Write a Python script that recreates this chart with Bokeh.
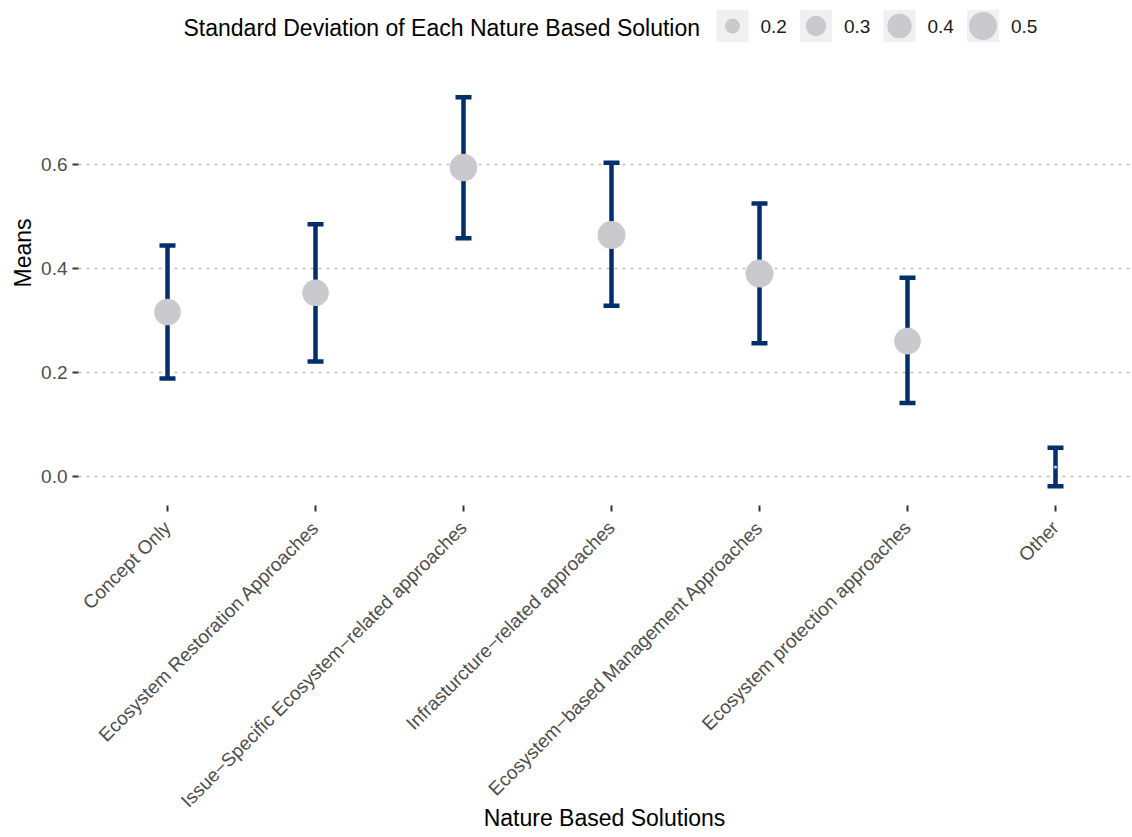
import math
from bokeh.plotting import figure
from bokeh.models import (Range1d, FixedTicker, Whisker, TeeHead, ColumnDataSource,
                          PrintfTickFormatter)
from bokeh.core.properties import value
from bokeh.embed import file_html
from bokeh.resources import INLINE

# ---------------- data ----------------
categories = [
    "Concept Only",
    "Ecosystem Restoration Approaches",
    "Issue\u2212Specific Ecosystem\u2212related approaches",
    "Infrasturcture\u2212related approaches",
    "Ecosystem\u2212based Management Approaches",
    "Ecosystem protection approaches",
    "Other",
]
means = [0.316, 0.353, 0.594, 0.464, 0.390, 0.260, 0.018]
lower = [0.188, 0.221, 0.458, 0.328, 0.256, 0.141, -0.019]
upper = [0.444, 0.485, 0.729, 0.603, 0.525, 0.382, 0.055]
sds = [0.46, 0.46, 0.49, 0.50, 0.50, 0.46, 0.085]
legend_breaks = [0.2, 0.3, 0.4, 0.5]
y_ticks = [0.0, 0.2, 0.4, 0.6]

# ---------------- styles / layout ----------------
FONT = "Liberation Sans"
NAVY = "#002f6c"
POINT = "#c9c9ce"

LEFT = 78
FRAME_W, FRAME_H = 1052, 505          # frame spans the legend band too
PX_PER_X = 148.0
X0 = -89.0 / PX_PER_X
X1 = X0 + FRAME_W / PX_PER_X
PX_PER_Y = 520.0
Y0 = -0.056
Y1 = Y0 + FRAME_H / PX_PER_Y


def size_px(sd):
    # area-proportional size scale
    return math.sqrt(max(1863.0 * sd - 148.0, 9.0))


def dx(px):   # px from frame left -> data x
    return X0 + px / PX_PER_X


def dy(px):   # px from frame top -> data y
    return Y1 - px / PX_PER_Y


# ---------------- figure ----------------
xs = list(range(len(categories)))
src = ColumnDataSource(dict(x=xs, mean=means, lower=lower, upper=upper,
                            size=[size_px(s) for s in sds]))

p = figure(frame_width=FRAME_W, frame_height=FRAME_H,
           x_range=Range1d(X0, X1), y_range=Range1d(Y0, Y1),
           min_border_left=LEFT, min_border_right=0, min_border_top=0, min_border_bottom=0,
           output_backend="svg", toolbar_location=None)
p.outline_line_color = None
p.background_fill_color = "white"

p.xgrid.visible = False
p.ygrid.grid_line_color = "#bebebe"
p.ygrid.grid_line_dash = "3 5"
p.ygrid.grid_line_width = 1.6

p.yaxis.ticker = FixedTicker(ticks=y_ticks)
p.yaxis.formatter = PrintfTickFormatter(format="%.1f")
p.xaxis.ticker = FixedTicker(ticks=xs)
p.xaxis.major_label_overrides = {i: c for i, c in enumerate(categories)}
p.xaxis.major_label_orientation = math.pi / 4

for ax in (p.xaxis[0], p.yaxis[0]):
    ax.axis_line_color = None
    ax.major_tick_line_color = "#333333"
    ax.major_tick_line_width = 2
    ax.major_tick_out = 6
    ax.major_tick_in = 0
    ax.minor_tick_line_color = None
    ax.major_label_text_font = FONT
    ax.major_label_text_font_size = "19px"
    ax.major_label_text_color = "#4d4d4d"
    ax.axis_label_text_font = FONT
    ax.axis_label_text_font_size = "23px"
    ax.axis_label_text_font_style = "normal"
    ax.axis_label_text_color = "#000000"

p.xaxis.axis_label = "Nature Based Solutions"
p.xaxis.major_label_standoff = 13
p.xaxis.axis_label_standoff = -17
p.yaxis.axis_label = "Means"
p.yaxis.major_label_standoff = 5
p.yaxis.axis_label_standoff = 2

# points, then error bars on top
p.scatter(x="x", y="mean", size="size", source=src, fill_color=POINT, line_color=None)

whisk = Whisker(source=src, base="x", upper="upper", lower="lower",
                line_color=NAVY, line_width=4.5,
                upper_head=TeeHead(size=16, line_color=NAVY, line_width=4.5),
                lower_head=TeeHead(size=16, line_color=NAVY, line_width=4.5))
p.add_layout(whisk)

# ---------------- size legend (top band of the frame) ----------------
row = dy(25.5)
title_left = 183 - LEFT
key0 = 732 - LEFT
key_step = 83.5
key_x = [dx(key0 + i * key_step) for i in range(len(legend_breaks))]
lab_x = [dx(key0 + i * key_step + 28) for i in range(len(legend_breaks))]

p.text(x=[dx(title_left)], y=[dy(27)], text=["Standard Deviation of Each Nature Based Solution"],
       text_font=value(FONT), text_font_size=value("23px"), text_color="#000000",
       text_align="left", text_baseline="middle")
p.scatter(x=key_x, y=[row] * len(key_x), marker="square", size=32,
          fill_color="#f0f0f0", line_color=None)
p.scatter(x=key_x, y=[row] * len(key_x), size=[size_px(v) for v in legend_breaks],
          fill_color=POINT, line_color=None)
p.text(x=lab_x, y=[dy(26)] * len(lab_x), text=[f"{v:.1f}" for v in legend_breaks],
       text_font=value(FONT), text_font_size=value("19px"), text_color="#1a1a1a",
       text_align="left", text_baseline="middle")

open("out.html", "w").write(file_html(p, INLINE))
